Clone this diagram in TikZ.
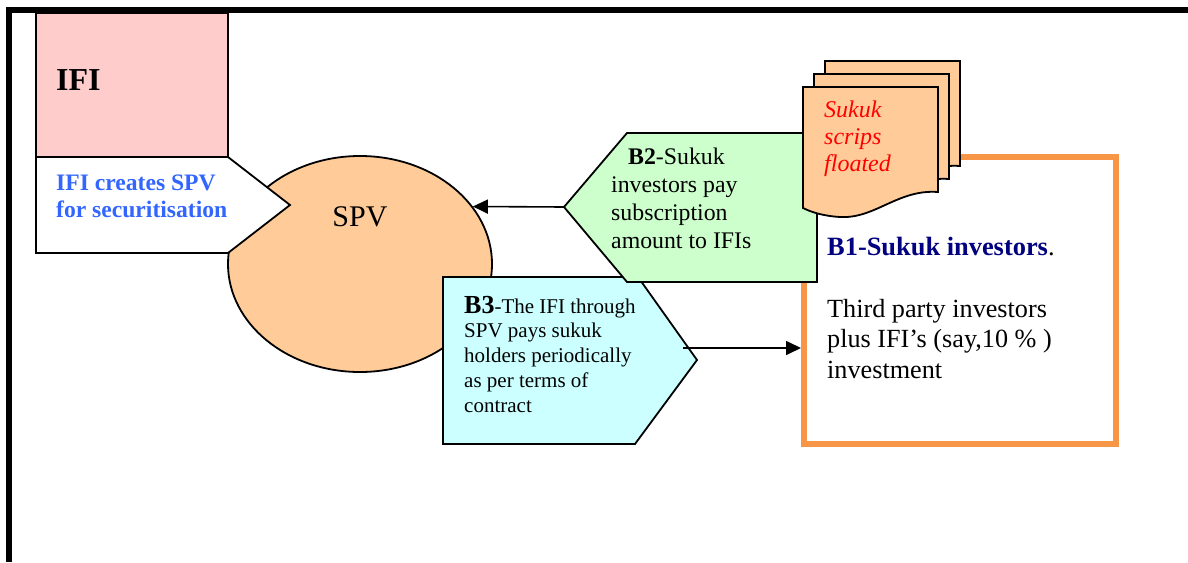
\documentclass[tikz,border=0pt]{standalone}
\usepackage{fontspec}
\setmainfont{Liberation Serif}
\usetikzlibrary{arrows.meta,shapes.geometric}
\definecolor{pinkfill}{HTML}{FFCCCC}
\definecolor{peach}{HTML}{FFCC99}
\definecolor{greenfill}{HTML}{CCFFCC}
\definecolor{cyanfill}{HTML}{CCFFFF}
\definecolor{orangec}{HTML}{F79646}
\definecolor{bluetext}{HTML}{3366FF}
\definecolor{navytext}{HTML}{000080}
\definecolor{redtext}{HTML}{FF0000}
\begin{document}
\begin{tikzpicture}[x=1pt,y=-1pt,
  shapeline/.style={draw=black,line width=1.8pt,line join=miter},
  txt/.style={anchor=base west,inner sep=0pt,align=left},
  arr/.style={draw=black,line width=1.6pt,-{Triangle[length=15pt,width=14pt]}}]
\useasboundingbox (0,0) rectangle (1188,562);
\fill[white] (0,0) rectangle (1188,562);
% frame
\draw[line width=6pt] (9,562) -- (9,10) -- (1188,10);
% SPV ellipse
\node[ellipse,shapeline,fill=peach,minimum width=264pt,minimum height=216pt,inner sep=0pt] (spv) at (360,264) {};
% IFI white pentagon
\filldraw[shapeline,fill=white] (36,157) -- (228,157) -- (290,205) -- (228,253) -- (36,253) -- cycle;
% IFI pink box
\filldraw[shapeline,fill=pinkfill] (36,13) rectangle (228,157);
% orange investors box
\node[draw=orangec,line width=6pt,fill=white,minimum width=312pt,minimum height=287pt,inner sep=0pt] (inv) at (960,300.5) {};
% B3 cyan pentagon
\filldraw[shapeline,fill=cyanfill] (443,277) -- (638,277) -- (697,360) -- (635,444) -- (443,444) -- cycle;
% B2 green pentagon
\filldraw[shapeline,fill=greenfill] (627,133) -- (817,133) -- (817,282) -- (627,282) -- (564,207) -- cycle;
% sukuk scrips
\foreach \x/\y in {825/61, 814/74, 803/87}{
  \filldraw[shapeline,fill=peach] (\x,\y) -- ({\x+135},\y) -- ({\x+135},{\y+105})
    .. controls ({\x+95},{\y+102}) and ({\x+72},{\y+132}) .. ({\x+37},{\y+130})
    .. controls ({\x+20},{\y+129}) and ({\x+8},{\y+125}) .. (\x,{\y+121}) -- cycle;
}
% connectors
\coordinate (b2tip) at (564,207);
\coordinate (b3s) at (683,348);
\draw[arr] (b2tip) -- (spv.27);
\draw[arr] (b3s) -- (b3s -| inv.west);
% texts (base anchor = baseline of last line)
\node[txt,font=\fontsize{32}{38}\selectfont\bfseries] (ifit) at (56,90) {IFI};
\node[txt,text=bluetext,font=\fontsize{23.6}{27}\selectfont\bfseries] (creates) at (56,217) {IFI creates SPV\\for securitisation};
\node[anchor=base,inner sep=0pt,font=\fontsize{30}{36}\selectfont] (spvt) at (360,226) {SPV};
\node[txt,font=\fontsize{23.8}{27.7}\selectfont] (b2t) at (611,248) {\hspace*{17pt}\textbf{B2}-Sukuk\\investors pay\\subscription\\amount to IFIs};
\node[txt,font=\fontsize{21}{24.75}\selectfont] (b3t) at (464,412) {{\fontsize{26}{24.75}\selectfont\textbf{B3}}-The IFI through\\SPV pays sukuk\\holders periodically\\as per terms of\\contract};
\node[txt,text=redtext,font=\fontsize{24}{27}\selectfont\itshape] (script) at (824,171) {Sukuk\\scrips\\floated};
\node[txt,font=\fontsize{26.4}{31}\selectfont] (b1t) at (827,255) {\textcolor{navytext}{\bfseries B1-Sukuk investors}.};
\node[txt,font=\fontsize{26.2}{30.5}\selectfont] (invt) at (827,378) {Third party investors\\plus IFI’s (say,10 \% )\\investment};
\end{tikzpicture}
\end{document}
